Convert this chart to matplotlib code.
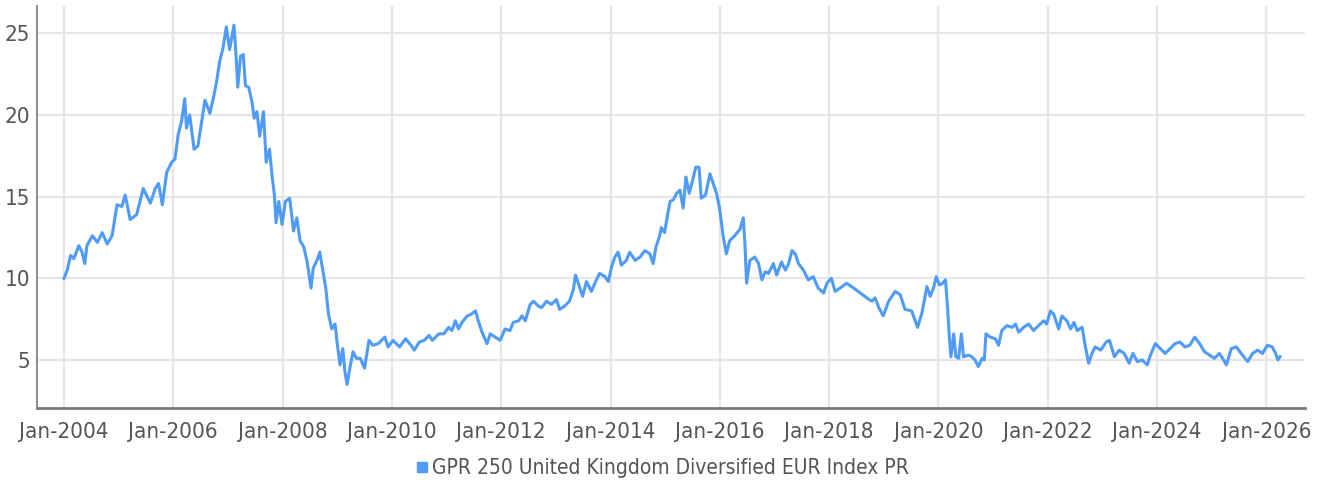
import matplotlib
matplotlib.use("Agg")
import matplotlib.pyplot as plt
from matplotlib.lines import Line2D
from matplotlib.font_manager import FontProperties

# decimal years and index level
years = [
    2004.00, 2004.06, 2004.12, 2004.18, 2004.27, 2004.33, 2004.38, 2004.42, 2004.52, 2004.61,
    2004.70, 2004.79, 2004.88, 2004.97, 2005.06, 2005.12, 2005.21, 2005.33, 2005.45, 2005.58,
    2005.67, 2005.73, 2005.80, 2005.88, 2005.97, 2006.03, 2006.09, 2006.15, 2006.21, 2006.24,
    2006.30, 2006.38, 2006.45, 2006.52, 2006.58, 2006.67, 2006.73, 2006.79, 2006.85, 2006.91,
    2006.97, 2007.03, 2007.11, 2007.14, 2007.18, 2007.23, 2007.28, 2007.32, 2007.38, 2007.44,
    2007.48, 2007.53, 2007.58, 2007.65, 2007.70, 2007.76, 2007.81, 2007.85, 2007.88, 2007.93,
    2007.99, 2008.05, 2008.13, 2008.20, 2008.26, 2008.32, 2008.39, 2008.45, 2008.52, 2008.56,
    2008.64, 2008.68, 2008.73, 2008.79, 2008.84, 2008.90, 2008.96, 2009.00, 2009.05, 2009.10,
    2009.14, 2009.18, 2009.23, 2009.29, 2009.35, 2009.42, 2009.50, 2009.58, 2009.65, 2009.75,
    2009.87, 2009.93, 2010.02, 2010.14, 2010.25, 2010.35, 2010.41, 2010.50, 2010.59, 2010.68,
    2010.74, 2010.86, 2010.95, 2011.04, 2011.10, 2011.16, 2011.22, 2011.28, 2011.38, 2011.45,
    2011.53, 2011.58, 2011.65, 2011.74, 2011.80, 2011.89, 2011.98, 2012.07, 2012.16, 2012.22,
    2012.32, 2012.38, 2012.44, 2012.53, 2012.59, 2012.68, 2012.74, 2012.83, 2012.92, 2013.01,
    2013.07, 2013.16, 2013.25, 2013.32, 2013.36, 2013.42, 2013.49, 2013.56, 2013.65, 2013.74,
    2013.80, 2013.90, 2013.96, 2014.02, 2014.08, 2014.14, 2014.20, 2014.29, 2014.35, 2014.45,
    2014.54, 2014.63, 2014.72, 2014.78, 2014.83, 2014.90, 2014.93, 2014.99, 2015.04, 2015.09,
    2015.15, 2015.21, 2015.27, 2015.33, 2015.38, 2015.44, 2015.51, 2015.56, 2015.62, 2015.66,
    2015.74, 2015.82, 2015.88, 2015.94, 2016.00, 2016.06, 2016.12, 2016.18, 2016.27, 2016.37,
    2016.43, 2016.46, 2016.49, 2016.55, 2016.64, 2016.71, 2016.77, 2016.83, 2016.89, 2016.98,
    2017.04, 2017.13, 2017.20, 2017.26, 2017.32, 2017.38, 2017.44, 2017.53, 2017.62, 2017.71,
    2017.80, 2017.90, 2017.96, 2018.04, 2018.11, 2018.20, 2018.32, 2018.45, 2018.57, 2018.69,
    2018.78, 2018.84, 2018.91, 2018.99, 2019.09, 2019.21, 2019.30, 2019.39, 2019.51, 2019.62,
    2019.70, 2019.79, 2019.85, 2019.91, 2019.96, 2020.02, 2020.08, 2020.13, 2020.17, 2020.20,
    2020.23, 2020.28, 2020.32, 2020.37, 2020.42, 2020.46, 2020.55, 2020.61, 2020.67, 2020.73,
    2020.80, 2020.84, 2020.87, 2020.95, 2021.04, 2021.10, 2021.16, 2021.25, 2021.35, 2021.41,
    2021.47, 2021.56, 2021.65, 2021.74, 2021.83, 2021.93, 2021.98, 2022.05, 2022.11, 2022.20,
    2022.26, 2022.35, 2022.42, 2022.48, 2022.54, 2022.63, 2022.69, 2022.75, 2022.81, 2022.87,
    2022.97, 2023.07, 2023.13, 2023.22, 2023.31, 2023.40, 2023.49, 2023.56, 2023.64, 2023.73,
    2023.82, 2023.88, 2023.97, 2024.06, 2024.15, 2024.24, 2024.33, 2024.42, 2024.51, 2024.60,
    2024.69, 2024.78, 2024.87, 2024.96, 2025.05, 2025.14, 2025.20, 2025.27, 2025.36, 2025.45,
    2025.54, 2025.66, 2025.75, 2025.84, 2025.93, 2026.02, 2026.11, 2026.17, 2026.21, 2026.25,
]
values = [
    10.0, 10.5, 11.4, 11.2, 12.0, 11.6, 10.9, 12.0, 12.6, 12.2,
    12.8, 12.1, 12.6, 14.5, 14.4, 15.1, 13.6, 13.9, 15.5, 14.6,
    15.5, 15.8, 14.5, 16.5, 17.1, 17.3, 18.8, 19.6, 21.0, 19.2,
    20.0, 17.9, 18.1, 19.6, 20.9, 20.1, 21.0, 22.0, 23.3, 24.1,
    25.4, 24.0, 25.5, 24.1, 21.7, 23.6, 23.7, 21.8, 21.7, 20.8,
    19.8, 20.2, 18.7, 20.2, 17.1, 17.9, 16.2, 15.1, 13.4, 14.7,
    13.3, 14.7, 14.9, 12.9, 13.7, 12.3, 11.9, 11.0, 9.4, 10.6,
    11.2, 11.6, 10.6, 9.4, 7.8, 6.9, 7.2, 6.0, 4.7, 5.7,
    4.3, 3.5, 4.5, 5.5, 5.1, 5.1, 4.5, 6.2, 5.9, 6.0,
    6.4, 5.8, 6.2, 5.8, 6.3, 5.9, 5.6, 6.1, 6.2, 6.5,
    6.2, 6.6, 6.6, 7.0, 6.8, 7.4, 6.9, 7.3, 7.7, 7.8,
    8.0, 7.4, 6.7, 6.0, 6.6, 6.4, 6.2, 6.9, 6.8, 7.3,
    7.4, 7.7, 7.4, 8.4, 8.6, 8.3, 8.2, 8.6, 8.4, 8.7,
    8.1, 8.3, 8.6, 9.3, 10.2, 9.6, 8.9, 9.8, 9.2, 9.9,
    10.3, 10.1, 9.8, 10.7, 11.3, 11.6, 10.8, 11.1, 11.6, 11.1,
    11.3, 11.7, 11.5, 10.9, 11.9, 12.6, 13.1, 12.8, 13.8, 14.7,
    14.8, 15.2, 15.4, 14.3, 16.2, 15.2, 16.1, 16.8, 16.8, 14.9,
    15.1, 16.4, 15.8, 15.2, 14.2, 12.6, 11.5, 12.3, 12.6, 13.0,
    13.7, 12.1, 9.7, 11.1, 11.3, 10.9, 9.9, 10.4, 10.3, 10.9,
    10.2, 11.0, 10.5, 10.9, 11.7, 11.5, 10.9, 10.5, 9.9, 10.1,
    9.4, 9.1, 9.7, 10.0, 9.2, 9.4, 9.7, 9.4, 9.1, 8.8,
    8.6, 8.8, 8.2, 7.7, 8.6, 9.2, 9.0, 8.1, 8.0, 7.0,
    7.9, 9.5, 8.9, 9.4, 10.1, 9.6, 9.7, 9.9, 8.1, 6.4,
    5.2, 6.6, 5.2, 5.1, 6.6, 5.2, 5.3, 5.2, 5.0, 4.6,
    5.1, 5.0, 6.6, 6.4, 6.3, 5.9, 6.8, 7.1, 7.0, 7.2,
    6.7, 7.0, 7.2, 6.8, 7.1, 7.4, 7.2, 8.0, 7.8, 6.9,
    7.7, 7.4, 6.9, 7.3, 6.8, 7.0, 5.8, 4.8, 5.4, 5.8,
    5.6, 6.1, 6.2, 5.2, 5.6, 5.4, 4.8, 5.4, 4.9, 5.0,
    4.7, 5.3, 6.0, 5.7, 5.4, 5.7, 6.0, 6.1, 5.8, 5.9,
    6.4, 6.0, 5.5, 5.3, 5.1, 5.4, 5.1, 4.7, 5.7, 5.8,
    5.4, 4.9, 5.4, 5.6, 5.4, 5.9, 5.8, 5.4, 5.0, 5.2,
]

series_name = "GPR 250 United Kingdom Diversified EUR Index PR"
tick_years = [2004, 2006, 2008, 2010, 2012, 2014, 2016, 2018, 2020, 2022, 2024, 2026]
tick_labels = ["Jan-%d" % y for y in tick_years]
y_ticks = [5, 10, 15, 20, 25]

line_color = "#4f9bf6"
text_color = "#555555"
tick_fp = FontProperties(family="DejaVu Sans", stretch="condensed", size=16)
leg_fp = FontProperties(family="DejaVu Sans", stretch="condensed", size=15)

W, H = 1323, 491
fig = plt.figure(figsize=(W / 100, H / 100), dpi=100)
ax = fig.add_axes([37 / W, 1 - 408 / H, (1305 - 37) / W, (408 - 6) / H])

ax.plot(years, values, color=line_color, lw=2.2, solid_joinstyle="round")

ax.set_xlim(2003.506, 2026.708)
ax.set_ylim(2.06, 26.67)
ax.set_xticks(tick_years)
ax.set_xticklabels(tick_labels)
ax.set_yticks(y_ticks)

ax.grid(True, color="#e6e6e6", lw=1.6)
ax.set_axisbelow(True)
for s in ["top", "right"]:
    ax.spines[s].set_visible(False)
ax.spines["left"].set_color("#8a8a8a")
ax.spines["left"].set_linewidth(1.4)
ax.spines["bottom"].set_color("#7a7a7a")
ax.spines["bottom"].set_linewidth(2)

ax.tick_params(axis="both", length=0, labelcolor=text_color)
ax.tick_params(axis="x", pad=10)
ax.tick_params(axis="y", pad=5)
for lab in ax.get_xticklabels() + ax.get_yticklabels():
    lab.set_fontproperties(tick_fp)

handle = Line2D([], [], marker="s", color=line_color, ls="none", markersize=7)
fig.legend([handle], [series_name], loc="center", bbox_to_anchor=(0.5, 1 - 468 / H),
           frameon=False, handletextpad=0.1, handlelength=0.8,
           prop=leg_fp, labelcolor=text_color)

fig.savefig("out.png", dpi=100)
